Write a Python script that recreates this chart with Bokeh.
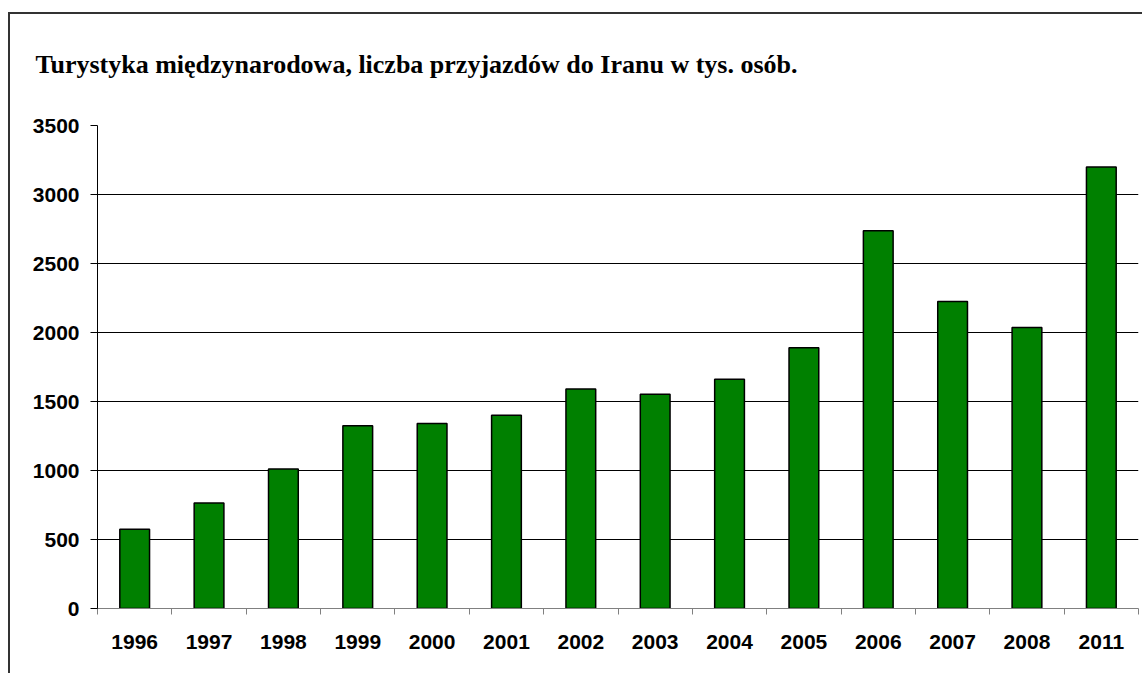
from bokeh.plotting import figure
from bokeh.models import FixedTicker, Range1d, InlineStyleSheet
from bokeh.embed import file_html
from bokeh.resources import INLINE

years = ["1996", "1997", "1998", "1999", "2000", "2001", "2002",
         "2003", "2004", "2005", "2006", "2007", "2008", "2011"]
arrivals = [575, 764, 1010, 1325, 1340, 1400, 1590, 1552, 1662, 1889,
            2738, 2224, 2036, 3200]
y_ticks = [0, 500, 1000, 1500, 2000, 2500, 3000, 3500]
title_text = "Turystyka międzynarodowa, liczba przyjazdów do Iranu w tys. osób."

n = len(years)
centers = [i + 0.5 for i in range(n)]
bounds = list(range(n + 1))

p = figure(width=1142, height=673, output_backend="svg", toolbar_location=None,
           x_range=Range1d(0, n), y_range=Range1d(0, 3500),
           min_border_left=97, min_border_right=4, min_border_top=125,
           min_border_bottom=65)
p.outline_line_color = None
p.background_fill_color = "white"
p.border_fill_color = "white"

p.title.text = title_text
p.title.align = "left"
p.title.vertical_align = "top"
p.title.offset = -62
p.title.standoff = 90
p.title.text_font = "Liberation Serif"
p.title.text_font_style = "bold"
p.title.text_font_size = "26px"
p.title.text_color = "black"

p.vbar(x=centers, top=arrivals, width=0.4, bottom=0,
       fill_color="#008000", line_color="black", line_width=1.5)

# y axis
p.yaxis.ticker = FixedTicker(ticks=y_ticks)
p.yaxis.minor_tick_line_color = None
p.yaxis.major_tick_in = 0
p.yaxis.major_tick_out = 7
p.yaxis.major_tick_line_color = "black"
p.yaxis.axis_line_color = "black"
p.yaxis.major_label_text_font = "Liberation Sans"
p.yaxis.major_label_text_font_style = "bold"
p.yaxis.major_label_text_font_size = "21px"
p.yaxis.major_label_text_color = "black"
p.yaxis.major_label_standoff = 11

# x axis
p.xaxis.ticker = FixedTicker(ticks=centers, minor_ticks=bounds)
p.xaxis.major_label_overrides = {c: y for c, y in zip(centers, years)}
p.xaxis.major_tick_line_color = None
p.xaxis.minor_tick_in = 0
p.xaxis.minor_tick_out = 6
p.xaxis.minor_tick_line_color = "#808080"
p.xaxis.axis_line_color = "#808080"
p.xaxis.major_label_text_font = "Liberation Sans"
p.xaxis.major_label_text_font_style = "bold"
p.xaxis.major_label_text_font_size = "21px"
p.xaxis.major_label_text_color = "black"
p.xaxis.major_label_standoff = 20

p.xgrid.grid_line_color = None
p.ygrid.ticker = FixedTicker(ticks=y_ticks[1:-1])
p.ygrid.grid_line_color = "black"
p.ygrid.grid_line_width = 1

p.stylesheets = [InlineStyleSheet(css="""
:host::after {
  content: "";
  position: absolute;
  left: 8px; top: 12px; right: 0px; bottom: 0px;
  border-left: 2px solid #333333;
  border-top: 2px solid #333333;
  pointer-events: none;
  z-index: 10;
}
""")]

open("out.html", "w").write(file_html(p, INLINE))
